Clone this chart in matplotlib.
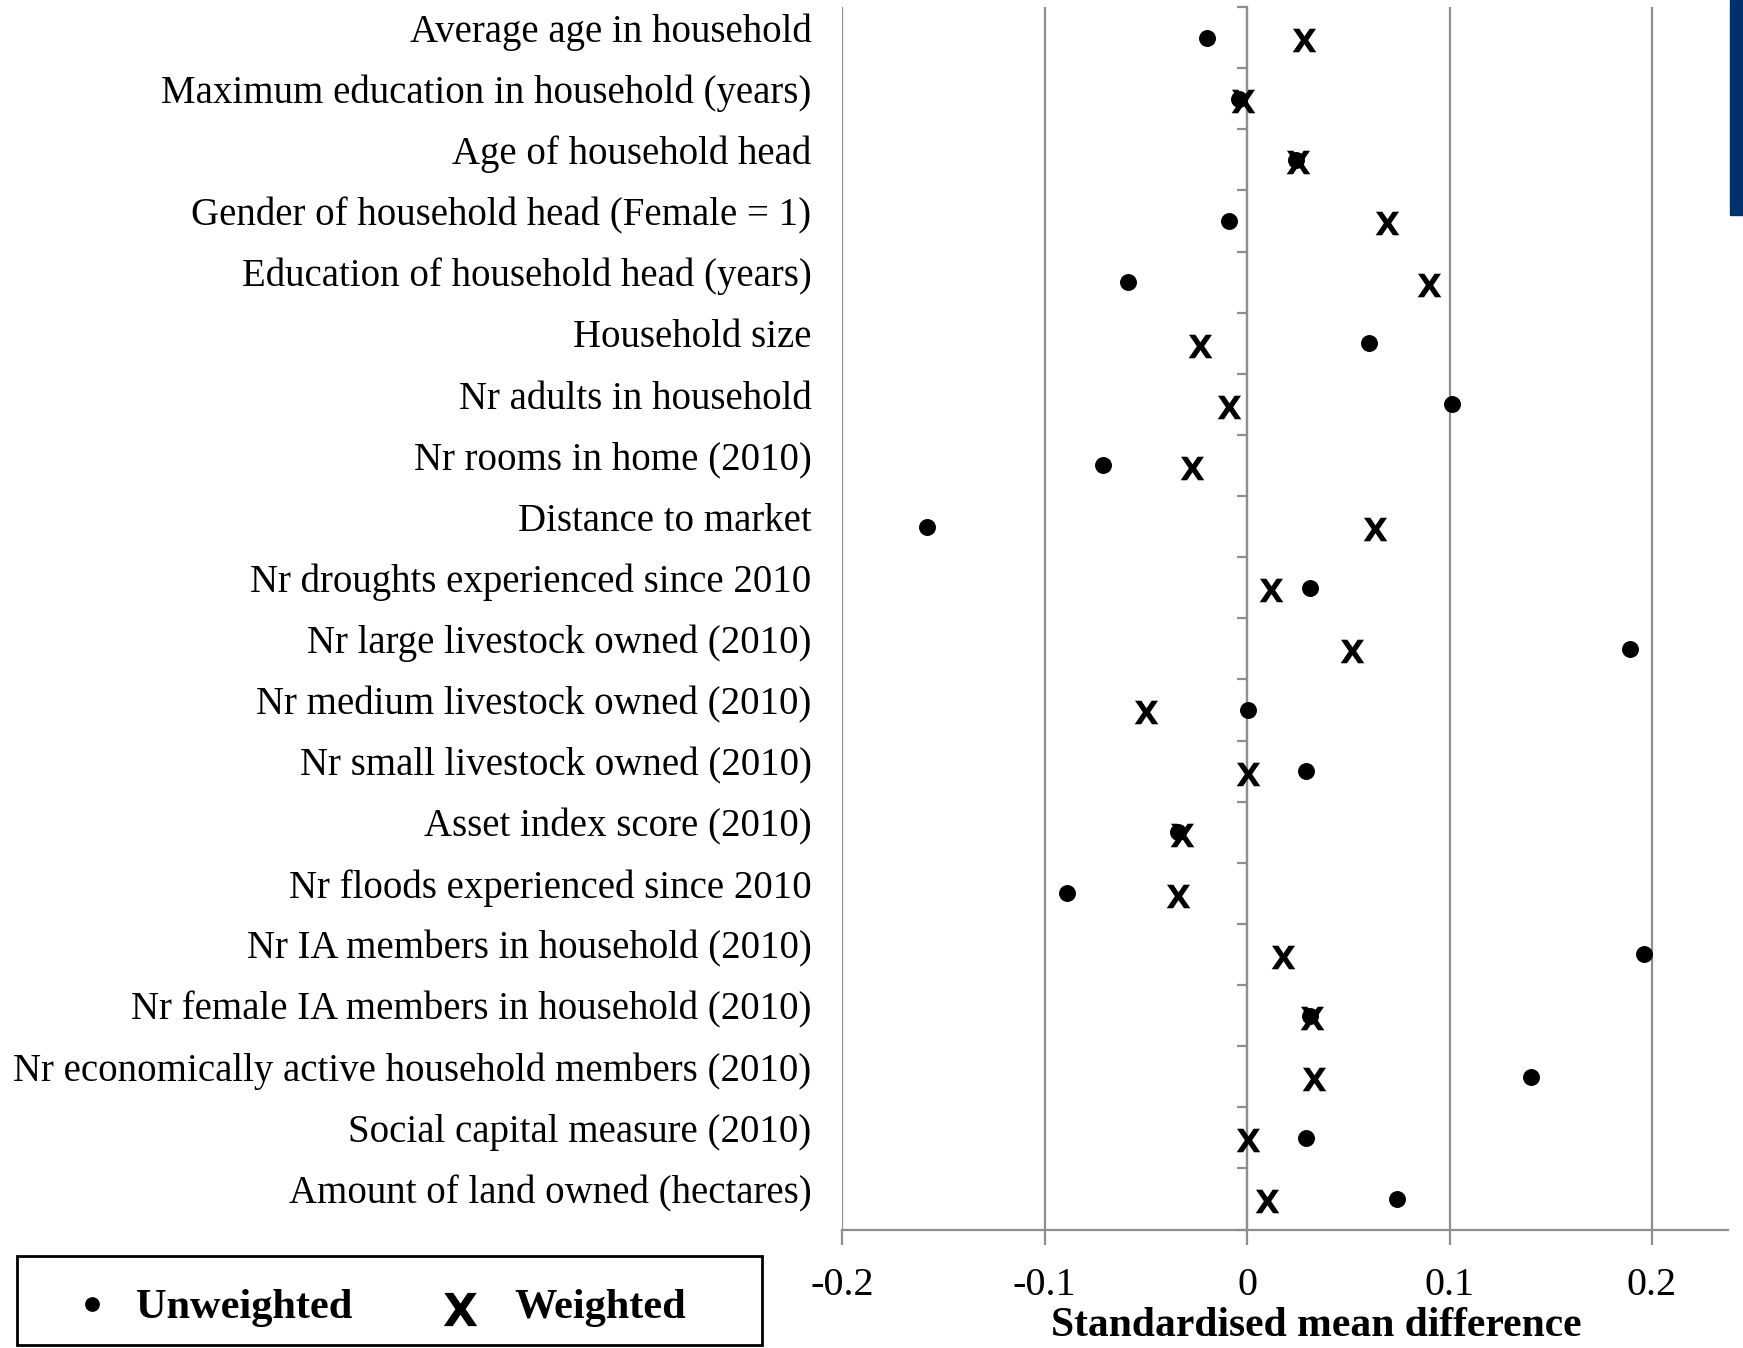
import matplotlib
matplotlib.use('Agg')
import matplotlib.pyplot as plt
import matplotlib.transforms as mtransforms
from matplotlib.patches import Rectangle
from matplotlib.lines import Line2D

plt.rcParams['font.family'] = ['Liberation Serif', 'DejaVu Serif']
plt.rcParams['mathtext.fontset'] = 'custom'
plt.rcParams['mathtext.bf'] = 'DejaVu Sans:bold'

labels = [
    'Average age in household',
    'Maximum education in household (years)',
    'Age of household head',
    'Gender of household head (Female = 1)',
    'Education of household head (years)',
    'Household size',
    'Nr adults in household',
    'Nr rooms in home (2010)',
    'Distance to market',
    'Nr droughts experienced since 2010',
    'Nr large livestock owned (2010)',
    'Nr medium livestock owned (2010)',
    'Nr small livestock owned (2010)',
    'Asset index score (2010)',
    'Nr floods experienced since 2010',
    'Nr IA members in household (2010)',
    'Nr female IA members in household (2010)',
    'Nr economically active household members (2010)',
    'Social capital measure (2010)',
    'Amount of land owned (hectares)',
]
unweighted = [-0.020, -0.004, 0.024, -0.009, -0.059, 0.060, 0.101, -0.071, -0.158, 0.031,
              0.189, 0.0005, 0.029, -0.034, -0.089, 0.196, 0.031, 0.140, 0.029, 0.074]
weighted = [0.028, -0.002, 0.025, 0.069, 0.090, -0.023, -0.009, -0.027, 0.063, 0.012,
            0.052, -0.050, 0.0005, -0.032, -0.034, 0.018, 0.032, 0.033, 0.0005, 0.010]
xticks = [-0.2, -0.1, 0, 0.1, 0.2]
xticklabels = ['-0.2', '-0.1', '0', '0.1', '0.2']

W, H = 1743, 1348
grey = '#8e8e8e'
fig = plt.figure(figsize=(W / 100, H / 100), dpi=100)
ax = fig.add_axes([842 / W, 1 - 1229.5 / H, 886 / W, 1222.5 / H])

ypos = list(range(len(labels)))
ax.set_xlim(-0.2, 0.2375)
ax.set_ylim(len(labels) - 0.5, -0.5)

for xv in xticks:
    ax.axvline(xv, color=grey, lw=1.6, zorder=1)

ax.scatter(unweighted, ypos, s=125, marker='o', color='black', zorder=3)
ax.scatter(weighted, [y + 0.04 for y in ypos], s=290, marker=r'$\mathbf{X}$', color='black',
           linewidths=0, zorder=4)

# bottom axis + category axis crossing at x = 0
for s in ['top', 'right']:
    ax.spines[s].set_visible(False)
ax.spines['left'].set_position(('data', 0))
ax.spines['left'].set_color(grey)
ax.spines['left'].set_linewidth(1.6)
ax.spines['bottom'].set_color(grey)
ax.spines['bottom'].set_linewidth(1.6)

ax.set_yticks([i - 0.5 for i in range(len(labels) + 1)])
ax.set_yticklabels([])
ax.tick_params(axis='y', length=7, width=1.6, color=grey, direction='out')

ax.set_xticks(xticks)
ax.set_xticklabels(xticklabels)
ax.tick_params(axis='x', length=10.8, width=1.6, color=grey, direction='out',
               labelsize=29, pad=16)

trans = mtransforms.blended_transform_factory(ax.transAxes, ax.transData)
for i, lab in enumerate(labels):
    ax.text(-0.0344, i + 0.07, lab, transform=trans, ha='right', va='baseline', fontsize=28)

ax.set_xlabel('Standardised mean difference', fontsize=30, fontweight='bold')
ax.xaxis.set_label_coords(0.535, -0.0635)

# legend box drawn by hand to match the original spacing
fig.patches.append(Rectangle((16.7 / W, 1 - 1345 / H), 744.8 / W, 89 / H, transform=fig.transFigure,
                             facecolor='white', edgecolor='black', lw=2))
fig.add_artist(Line2D([92.3 / W], [1 - 1304 / H], marker='o', markersize=9.6, color='black',
                      transform=fig.transFigure))
fig.add_artist(Line2D([460 / W], [1 - 1309 / H], marker=r'$\mathbf{X}$', markersize=24, color='black',
                      markeredgewidth=0, transform=fig.transFigure))
fig.text(135.6 / W, 1 - 1318 / H, 'Unweighted', fontsize=30.5, fontweight='bold', va='baseline')
fig.text(514.7 / W, 1 - 1318 / H, 'Weighted', fontsize=30.5, fontweight='bold', va='baseline')

fig.patches.append(Rectangle((1730 / W, 1 - 215 / H), 13 / W, 215 / H,
                             transform=fig.transFigure, color='#00306e'))

fig.savefig('out.png', dpi=100)
